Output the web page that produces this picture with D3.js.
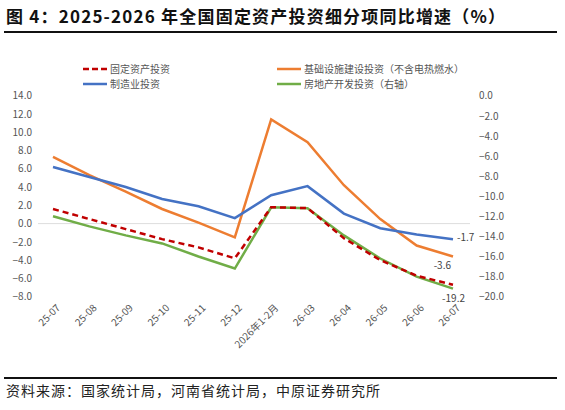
<!DOCTYPE html>
<html><head><meta charset="utf-8">
<script src="https://cdn.jsdelivr.net/npm/d3@7"></script>
<style>body{margin:0;background:#fff;font-family:"Noto Sans CJK SC",sans-serif;}</style>
</head><body><div class="chart"></div>
<script>
const months = ["25-07","25-08","25-09","25-10","25-11","25-12","2026年1-2月","26-03","26-04","26-05","26-06","26-07"]
const fixedInv = [1.6,0.5,-0.6,-1.7,-2.6,-3.8,1.8,1.7,-1.6,-4.0,-5.7,-6.7]
const infraInv = [7.3,5.3,3.5,1.6,0.1,-1.5,11.4,8.9,4.2,0.5,-2.4,-3.6]
const mfgInv = [6.2,5.1,4.0,2.7,1.9,0.6,3.1,4.1,1.1,-0.5,-1.2,-1.7]
const realEstate = [-12.0,-13.0,-13.9,-14.7,-16.0,-17.2,-11.1,-11.2,-13.9,-16.2,-18.0,-19.2]
const leftTicks = [14,12,10,8,6,4,2,0,-2,-4,-6,-8]
const rightTicks = [0,-2,-4,-6,-8,-10,-12,-14,-16,-18,-20]

const W = 565, H = 410
const svg = d3.select(".chart").append("svg").attr("width", W).attr("height", H)

// title + rules
svg.append("text").attr("x", 6).attr("y", 23).attr("font-size", 17).attr("font-weight", "bold")
    .attr("letter-spacing", 1.2).attr("fill", "#111").text("图 4：2025-2026 年全国固定资产投资细分项同比增速（%）")
svg.append("rect").attr("x", 4).attr("y", 31).attr("width", 553).attr("height", 2).attr("fill", "#111")
svg.append("rect").attr("x", 4).attr("y", 377).attr("width", 553).attr("height", 2).attr("fill", "#111")
svg.append("text").attr("x", 6).attr("y", 396).attr("font-size", 14).attr("letter-spacing", 1).attr("fill", "#222")
    .text("资料来源：国家统计局，河南省统计局，中原证券研究所")

const x = d3.scalePoint().domain(months).range([53, 453])
const yL = d3.scaleLinear().domain([-8, 14]).range([296.7, 95.7])
const yR = d3.scaleLinear().domain([-20, 0]).range([296.7, 95.7])

svg.append("line").attr("x1", 38).attr("x2", 470).attr("y1", yL(0)).attr("y2", yL(0))
    .attr("stroke", "#ddd").attr("stroke-width", 1)

const leftAxis = svg.append("g").attr("transform", "translate(32,0)")
    .call(d3.axisLeft(yL).tickValues(leftTicks).tickFormat(d3.format(".1f")).tickSize(0))
const rightAxis = svg.append("g").attr("transform", "translate(476,0)")
    .call(d3.axisRight(yR).tickValues(rightTicks).tickFormat(d3.format(".1f")).tickSize(0))
const xAxis = svg.append("g").attr("transform", "translate(0,304)")
    .call(d3.axisBottom(x).tickSize(0))
xAxis.selectAll("text").attr("text-anchor", "end").attr("x", 0).attr("y", 0).attr("dy", "0.35em")
    .attr("transform", "translate(5,2) rotate(-45)")
svg.selectAll(".domain").remove()
svg.selectAll(".tick text").attr("font-size", 10).attr("fill", "#555")
    .attr("font-family", "Noto Sans CJK SC, sans-serif")
leftAxis.selectAll("text").attr("x", 0)

const lineL = d3.line().x((d, i) => x(months[i])).y(d => yL(d))
const lineR = d3.line().x((d, i) => x(months[i])).y(d => yR(d))

svg.append("path").datum(infraInv).attr("d", lineL).attr("fill", "none").attr("stroke", "#ED7D31").attr("stroke-width", 2.5)
svg.append("path").datum(mfgInv).attr("d", lineL).attr("fill", "none").attr("stroke", "#4472C4").attr("stroke-width", 2.5)
svg.append("path").datum(realEstate).attr("d", lineR).attr("fill", "none").attr("stroke", "#70AD47").attr("stroke-width", 2.5)
svg.append("path").datum(fixedInv).attr("d", lineL).attr("fill", "none").attr("stroke", "#C00000").attr("stroke-width", 2.5)
    .attr("stroke-dasharray", "6,4")

const last = months[months.length - 1]
svg.append("text").attr("x", x(last) + 4).attr("y", yL(mfgInv[11]) + 2).attr("font-size", 10).attr("fill", "#444").text(mfgInv[11].toFixed(1))
svg.append("text").attr("x", x(last) - 2).attr("y", yL(infraInv[11]) + 12).attr("text-anchor", "end").attr("font-size", 10).attr("fill", "#444").text(infraInv[11].toFixed(1))
svg.append("text").attr("x", x(last) + 12).attr("y", yR(realEstate[11]) + 13).attr("text-anchor", "end").attr("font-size", 10).attr("fill", "#444").text(realEstate[11].toFixed(1))

// legend
const legend = [
  {name: "固定资产投资", color: "#C00000", dash: "6,3", lx: 83, ly: 69},
  {name: "基础设施建设投资（不含电热燃水）", color: "#ED7D31", dash: null, lx: 277, ly: 69},
  {name: "制造业投资", color: "#4472C4", dash: null, lx: 83, ly: 84},
  {name: "房地产开发投资（右轴）", color: "#70AD47", dash: null, lx: 277, ly: 84}
]
legend.forEach(l => {
  svg.append("line").attr("x1", l.lx).attr("x2", l.lx + 24).attr("y1", l.ly).attr("y2", l.ly)
      .attr("stroke", l.color).attr("stroke-width", 2.5).attr("stroke-dasharray", l.dash)
  svg.append("text").attr("x", l.lx + 27).attr("y", l.ly + 3.5).attr("font-size", 10).attr("fill", "#555").text(l.name)
})
</script></body></html>
